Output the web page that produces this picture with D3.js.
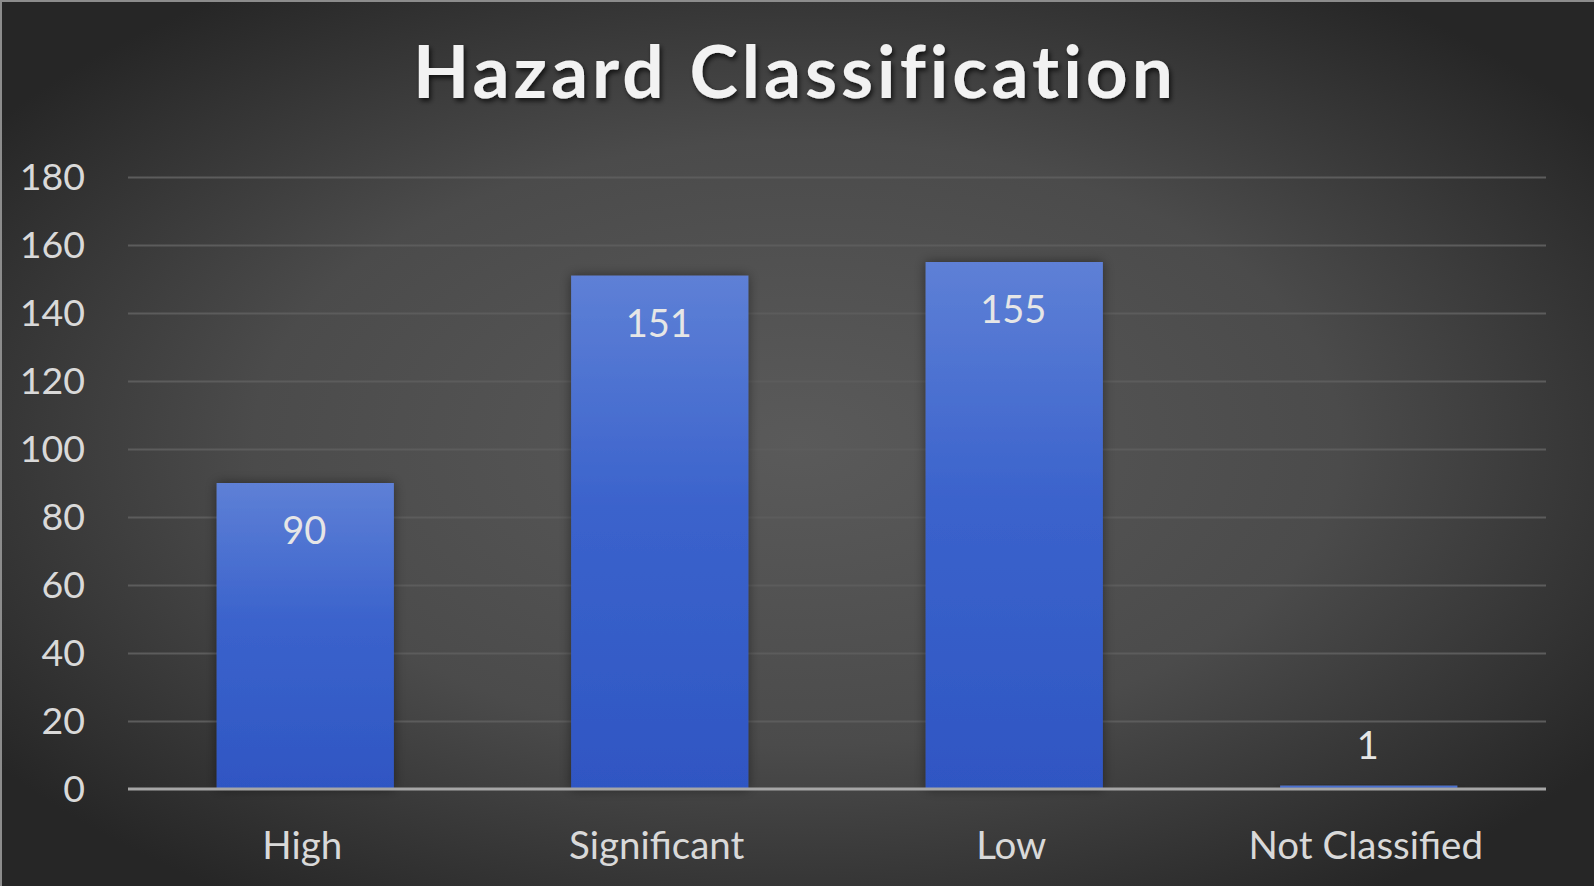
<!DOCTYPE html>
<html>
<head>
<meta charset="utf-8">
<script src="https://cdn.jsdelivr.net/npm/d3@7"></script>
<style>
  html, body { margin: 0; padding: 0; background: #2b2b2b; overflow: hidden; }
  svg { display: block; }
</style>
</head>
<body>
<script>
const chartTitle = "Hazard Classification";
const categories = ["High", "Significant", "Low", "Not Classified"];
const values = [90, 151, 155, 1];
const yTicks = [0, 20, 40, 60, 80, 100, 120, 140, 160, 180];

const W = 1594, H = 886;
const plot = { left: 128, right: 1546, top: 177, bottom: 789 };
const FONT = "Lato, 'Open Sans', sans-serif";

const svg = d3.select("body").append("svg").attr("width", W).attr("height", H);
const defs = svg.append("defs");

const bg = defs.append("radialGradient").attr("id", "bg")
  .attr("cx", "50%").attr("cy", "50%").attr("r", "62%");
bg.append("stop").attr("offset", "0%").attr("stop-color", "#5a5a5a");
bg.append("stop").attr("offset", "55%").attr("stop-color", "#4b4b4b");
bg.append("stop").attr("offset", "100%").attr("stop-color", "#262626");

const barGrad = defs.append("linearGradient").attr("id", "barGrad")
  .attr("x1", 0).attr("y1", 0).attr("x2", 0).attr("y2", 1);
barGrad.append("stop").attr("offset", "0%").attr("stop-color", "#5e80d6");
barGrad.append("stop").attr("offset", "45%").attr("stop-color", "#3b63cc");
barGrad.append("stop").attr("offset", "100%").attr("stop-color", "#2f56c3");

const sh = defs.append("filter").attr("id", "barShadow")
  .attr("x", "-20%").attr("y", "-20%").attr("width", "140%").attr("height", "140%");
sh.append("feDropShadow").attr("dx", 0).attr("dy", 0).attr("stdDeviation", 6)
  .attr("flood-color", "#000").attr("flood-opacity", 0.45);

const tsh = defs.append("filter").attr("id", "titleShadow")
  .attr("x", "-10%").attr("y", "-30%").attr("width", "120%").attr("height", "160%");
tsh.append("feDropShadow").attr("dx", 2).attr("dy", 3).attr("stdDeviation", 2.5)
  .attr("flood-color", "#000").attr("flood-opacity", 0.7);

svg.append("rect").attr("width", W).attr("height", H).attr("fill", "url(#bg)");
// light frame edges (top & left)
svg.append("line").attr("x1", 0).attr("x2", W).attr("y1", 1).attr("y2", 1)
  .attr("stroke", "#8c8c8c").attr("stroke-width", 2);
svg.append("line").attr("x1", 1).attr("x2", 1).attr("y1", 0).attr("y2", H)
  .attr("stroke", "#8c8c8c").attr("stroke-width", 2);

const x = d3.scaleBand().domain(categories)
  .range([plot.left, plot.right]).paddingInner(0.5).paddingOuter(0.25);
const y = d3.scaleLinear().domain([0, 180]).range([plot.bottom, plot.top]);

// y axis with gridlines
const yAxis = d3.axisLeft(y).tickValues(yTicks)
  .tickSize(-(plot.right - plot.left)).tickPadding(43);
const gy = svg.append("g").attr("transform", `translate(${plot.left},0)`).call(yAxis);
gy.select(".domain").remove();
gy.selectAll(".tick line").attr("stroke", "#5c5c5c").attr("stroke-width", 2)
  .filter(d => d === 0).remove();
gy.selectAll(".tick text").attr("fill", "#d9d9d9")
  .style("font-family", FONT).style("font-size", "37.5px");

// bars
svg.append("g").selectAll("rect").data(values).join("rect")
  .attr("x", (d, i) => x(categories[i]))
  .attr("width", x.bandwidth())
  .attr("y", d => y(d))
  .attr("height", d => y(0) - y(d))
  .attr("fill", "url(#barGrad)")
  .attr("filter", "url(#barShadow)");

// zero axis line
svg.append("line").attr("x1", plot.left).attr("x2", plot.right)
  .attr("y1", y(0)).attr("y2", y(0))
  .attr("stroke", "#a6a6a6").attr("stroke-width", 3);

// value labels
svg.append("g").selectAll("text").data(values).join("text")
  .attr("x", (d, i) => x(categories[i]) + x.bandwidth() / 2 - 1)
  .attr("y", d => (y(0) - y(d) > 70) ? y(d) + 61 : y(d) - 27)
  .attr("text-anchor", "middle")
  .attr("fill", "#e6e6e6")
  .style("font-family", FONT).style("font-size", "38px")
  .text(d => d);

// x axis labels
const xAxis = d3.axisBottom(x).tickSize(0).tickPadding(43);
const gx = svg.append("g").attr("transform", `translate(0,${plot.bottom})`).call(xAxis);
gx.select(".domain").remove();
gx.selectAll(".tick text").attr("fill", "#d9d9d9")
  .attr("dx", -3)
  .style("font-family", FONT).style("font-size", "38.5px");

// title
svg.append("text")
  .attr("x", 795).attr("y", 98)
  .attr("text-anchor", "middle")
  .attr("fill", "#f2f2f2")
  .attr("filter", "url(#titleShadow)")
  .style("font-family", FONT).style("font-weight", "700").style("font-size", "73px")
  .style("letter-spacing", "4px")
  .text(chartTitle);
</script>
</body>
</html>
